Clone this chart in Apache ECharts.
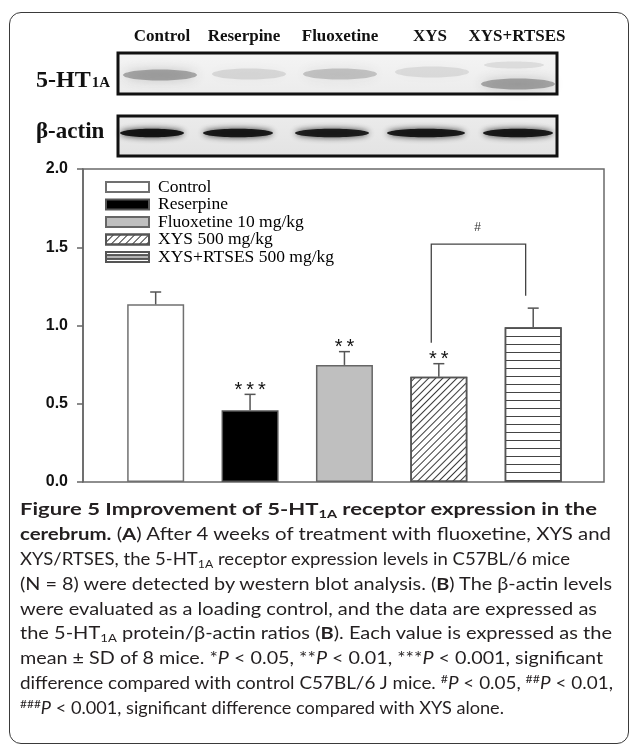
<!DOCTYPE html>
<html>
<head>
<meta charset="utf-8">
<script src="https://cdn.jsdelivr.net/npm/echarts@6/dist/echarts.min.js"></script>
<style>
html,body{margin:0;padding:0;background:#fff;}
#wrap{position:relative;width:629px;height:747px;overflow:hidden;background:#fff;}
#chart{position:absolute;left:0;top:0;width:629px;height:747px;}
#frame{position:absolute;left:9px;top:12px;width:620px;height:732px;border:1.5px solid #3a3a3a;border-radius:12px;box-sizing:border-box;pointer-events:none;}
#caption{position:absolute;left:20px;top:497px;font-family:Lato,'Open Sans',sans-serif;font-size:17px;color:#231f20;}
#caption .ln{height:24.9px;line-height:24.9px;white-space:nowrap;transform-origin:0 50%;}
#caption b{font-weight:700;}
#caption sub,#caption sup{font-size:0.66em;line-height:0;}
#caption sub{vertical-align:-0.25em;}
#caption sup{vertical-align:0.55em;}
</style>
</head>
<body>
<div id="wrap">
  <div id="chart"></div>
  <div id="frame"></div>
  <div id="caption">
    <div class="ln"><b>Figure 5 Improvement of 5-HT<sub>1A</sub> receptor expression in the</b></div>
    <div class="ln"><b>cerebrum.</b> (<b>A</b>) After 4 weeks of treatment with fluoxetine, XYS and</div>
    <div class="ln">XYS/RTSES, the 5-HT<sub>1A</sub> receptor expression levels in C57BL/6 mice</div>
    <div class="ln">(N = 8) were detected by western blot analysis. (<b>B</b>) The β-actin levels</div>
    <div class="ln">were evaluated as a loading control, and the data are expressed as</div>
    <div class="ln">the 5-HT<sub>1A</sub> protein/β-actin ratios (<b>B</b>). Each value is expressed as the</div>
    <div class="ln">mean ± SD of 8 mice. *<i>P</i> &lt; 0.05, **<i>P</i> &lt; 0.01, ***<i>P</i> &lt; 0.001, significant</div>
    <div class="ln">difference compared with control C57BL/6 J mice. <sup>#</sup><i>P</i> &lt; 0.05, <sup>##</sup><i>P</i> &lt; 0.01,</div>
    <div class="ln"><sup>###</sup><i>P</i> &lt; 0.001, significant difference compared with XYS alone.</div>
  </div>
</div>
<script>
// ---------------- data ----------------
const categories = ['Control', 'Reserpine', 'Fluoxetine 10 mg/kg', 'XYS 500 mg/kg', 'XYS+RTSES 500 mg/kg'];
const laneLabels = ['Control', 'Reserpine', 'Fluoxetine', 'XYS', 'XYS+RTSES'];
const ratioMean = [1.135, 0.459, 0.748, 0.673, 0.989];
const ratioSD = [0.079, 0.101, 0.085, 0.083, 0.122];
const sigVsControl = ['', '***', '**', '**', ''];
const yTicks = [0, 0.5, 1.0, 1.5, 2.0];
const bracketPair = [3, 4];
const bracketLevels = [0.89, 1.19, 1.52]; // left foot, right foot, top
const bracketLabel = '#';
const band5HT = [0.58, 0.2, 0.36, 0.18, 0.58];
const bandActin = [0.95, 0.92, 0.9, 0.92, 0.93];

// ---------------- styles ----------------
const decalDiag = {symbol: 'rect', symbolSize: 1, dashArrayX: [10, 0], dashArrayY: [0.9, 3.2], rotation: -Math.PI / 4, color: '#3a3a3a'};
const decalHoriz = {symbol: 'rect', symbolSize: 1, dashArrayX: [10, 0], dashArrayY: [1, 6.8], rotation: 0, color: '#444444'};
const barStyles = [
  {color: '#ffffff', borderColor: '#707070', borderWidth: 1.5},
  {color: '#000000', borderColor: '#555555', borderWidth: 1.5},
  {color: '#bfbfbf', borderColor: '#666666', borderWidth: 1.5},
  {color: '#ffffff', borderColor: '#555555', borderWidth: 1.5, decal: decalDiag},
  {color: '#ffffff', borderColor: '#555555', borderWidth: 1.5, decal: decalHoriz}
];
const stripedIcon = 'path://M0,0H43V10H0ZM0,3.33H43M0,6.67H43';

// blot layout (decorative image part)
const laneX = [162, 244, 340, 430, 517];
const band5X = [160, 249, 340, 432, 518];
const band5Y = [75, 74, 74, 72, 84];
const bandAX = [152, 238, 332, 426, 518];
const bandARx = [32, 35, 37, 39, 35];

const chart = echarts.init(document.getElementById('chart'), null, {renderer: 'canvas'});

const graphics = [];
laneLabels.forEach((t, i) => {
  graphics.push({type: 'text', x: laneX[i], y: 37, style: {text: t, align: 'center', verticalAlign: 'middle',
    fontFamily: 'Liberation Serif', fontWeight: 'bold', fontSize: 17, fill: '#111'}});
});
graphics.push({type: 'text', x: 36, y: 81, style: {text: '{a|5-HT}{b|1A}', verticalAlign: 'middle',
  rich: {a: {fontFamily: 'Liberation Serif', fontWeight: 'bold', fontSize: 24, fill: '#111', verticalAlign: 'bottom'},
         b: {fontFamily: 'Liberation Serif', fontWeight: 'bold', fontSize: 15, fill: '#111', verticalAlign: 'bottom', padding: [0, 0, 2, 1]}}}});
graphics.push({type: 'text', x: 36, y: 132, style: {text: 'β-actin', verticalAlign: 'middle', fontFamily: 'Liberation Serif', fontWeight: 'bold', fontSize: 23, fill: '#111'}});
graphics.push({type: 'rect', shape: {x: 118, y: 53, width: 439, height: 41}, style: {fill: new echarts.graphic.LinearGradient(0, 0, 0, 1, [{offset: 0, color: '#f4f4f4'}, {offset: 1, color: '#ececec'}])}, z: 1});
graphics.push({type: 'rect', shape: {x: 118, y: 116, width: 439, height: 40}, style: {fill: new echarts.graphic.LinearGradient(0, 0, 0, 1, [{offset: 0, color: '#ebebeb'}, {offset: 1, color: '#e3e3e3'}])}, z: 1});
band5HT.forEach((a, i) => {
  graphics.push({type: 'ellipse', shape: {cx: band5X[i], cy: band5Y[i], rx: 37, ry: 5.5},
    style: {fill: 'rgba(80,80,80,' + (a * 0.75) + ')', shadowBlur: 12, shadowColor: 'rgba(70,70,70,' + a + ')'}, z: 2});
});
graphics.push({type: 'ellipse', shape: {cx: 514, cy: 65, rx: 30, ry: 3.5},
  style: {fill: 'rgba(80,80,80,0.12)', shadowBlur: 10, shadowColor: 'rgba(70,70,70,0.18)'}, z: 2});
bandActin.forEach((a, i) => {
  graphics.push({type: 'ellipse', shape: {cx: bandAX[i], cy: 133, rx: bandARx[i], ry: 4.3},
    style: {fill: 'rgba(15,15,15,' + a + ')', shadowBlur: 6, shadowColor: 'rgba(15,15,15,0.9)'}, z: 2});
});
graphics.push({type: 'rect', shape: {x: 118, y: 53, width: 439, height: 41}, style: {fill: 'none', stroke: '#111', lineWidth: 3}, z: 3});
graphics.push({type: 'rect', shape: {x: 118, y: 116, width: 439, height: 40}, style: {fill: 'none', stroke: '#111', lineWidth: 3}, z: 3});

const barSeries = categories.map((name, i) => ({
  name: name,
  type: 'bar',
  data: [[i, ratioMean[i]]],
  barWidth: 57,
  barGap: '-100%',
  itemStyle: barStyles[i],
  emphasis: {disabled: true},
  z: 2
}));

const legendData = categories.map((name, i) => i === 4
  ? {name: name, icon: stripedIcon, itemStyle: {decal: {symbol: 'none', color: 'rgba(0,0,0,0)'}}}
  : {name: name});

const option = {
  animation: false,
  backgroundColor: 'transparent',
  graphic: graphics,
  grid: {left: 83, right: 25, top: 169, bottom: 265, show: true, borderColor: '#6a6a6a', borderWidth: 1.5, containLabel: false},
  legend: {
    data: legendData,
    orient: 'vertical',
    left: 105, top: 178, padding: 0,
    icon: 'rect',
    itemWidth: 43, itemHeight: 10, itemGap: -0.5,
    selectedMode: false,
    textStyle: {fontFamily: 'Liberation Serif', fontSize: 17.5, color: '#000', lineHeight: 16, padding: [0, 0, 0, 4]}
  },
  xAxis: {type: 'value', min: -0.77, max: 4.75, show: false, axisLine: {onZero: false}},
  yAxis: {
    type: 'value', min: yTicks[0], max: yTicks[yTicks.length - 1], interval: 0.5,
    axisLine: {show: true, onZero: false, lineStyle: {color: '#666', width: 1.5}},
    axisTick: {show: true, length: 6, lineStyle: {color: '#666', width: 1.5}},
    splitLine: {show: false},
    axisLabel: {formatter: v => v.toFixed(1), fontFamily: 'Liberation Sans', fontWeight: 'bold', fontSize: 16, color: '#111', margin: 15}
  },
  series: barSeries.concat([
    {
      type: 'custom', name: 'errorbars', silent: true, z: 5,
      data: ratioMean.map((m, i) => [i, m, m + ratioSD[i]]),
      encode: {x: 0, y: [1, 2]},
      renderItem: (params, api) => {
        const x = api.value(0);
        const lo = api.coord([x, api.value(1)]);
        const hi = api.coord([x, api.value(2)]);
        const idx = params.dataIndex;
        const st = {stroke: '#555', lineWidth: 1.5};
        const children = [
          {type: 'line', shape: {x1: lo[0], y1: lo[1], x2: hi[0], y2: hi[1]}, style: st},
          {type: 'line', shape: {x1: hi[0] - 5.5, y1: hi[1], x2: hi[0] + 5.5, y2: hi[1]}, style: st}
        ];
        if (sigVsControl[idx]) {
          const s = sigVsControl[idx].split('').join('\u2009');
          children.push({type: 'text', style: {text: s, x: hi[0], y: hi[1] - 4, align: 'center', verticalAlign: 'middle',
            fontFamily: 'Liberation Sans', fontSize: 20, fill: '#111'}});
        }
        return {type: 'group', children: children};
      }
    },
    {
      type: 'custom', name: 'bracket', silent: true, z: 5,
      data: [[bracketPair[0], bracketPair[1], bracketLevels[0], bracketLevels[1], bracketLevels[2]]],
      encode: {x: [0, 1], y: [2, 3, 4]},
      renderItem: (params, api) => {
        const off = -0.08;
        const a = api.value(0) + off, b = api.value(1) + off;
        const p1 = api.coord([a, api.value(2)]);
        const p2 = api.coord([a, api.value(4)]);
        const p3 = api.coord([b, api.value(4)]);
        const p4 = api.coord([b, api.value(3)]);
        return {type: 'group', children: [
          {type: 'polyline', shape: {points: [p1, p2, p3, p4]}, style: {stroke: '#444', lineWidth: 1.3, fill: 'none'}},
          {type: 'text', style: {text: bracketLabel, x: (p2[0] + p3[0]) / 2 - 1, y: p2[1] - 16, align: 'center', verticalAlign: 'middle',
            fontFamily: 'Liberation Sans', fontSize: 12, fill: '#333'}}
        ]};
      }
    }
  ])
};
chart.setOption(option);

// fit each caption line to the reference's line length
(function () {
  const targets = [577, 591, 550, 592, 577, 592, 583, 593, 484];
  const lines = Array.from(document.querySelectorAll('#caption .ln'));
  lines.forEach((ln, i) => {
    const r = document.createRange();
    r.selectNodeContents(ln);
    const w = r.getBoundingClientRect().width;
    if (w > 0) ln.style.transform = 'scaleX(' + (targets[i] / w).toFixed(4) + ')';
  });
})();
</script>
</body>
</html>
